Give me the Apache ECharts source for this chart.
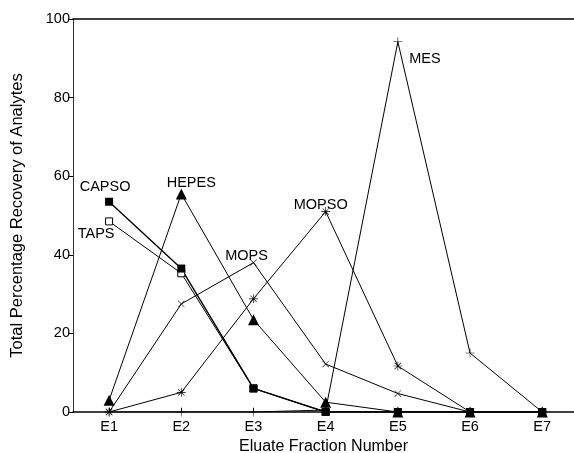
<!DOCTYPE html>
<html><head><meta charset="utf-8">
<script src="https://cdn.jsdelivr.net/npm/echarts@6/dist/echarts.min.js"></script>
<style>html,body{margin:0;padding:0;background:#fff}#c{width:574px;height:453px}</style>
</head><body><div id="c"></div>
<script>
const fractions = [1, 2, 3, 4, 5, 6, 7];
const fractionLabels = ['E1', 'E2', 'E3', 'E4', 'E5', 'E6', 'E7'];
const yTicks = [0, 20, 40, 60, 80, 100];
const capso = [53.5, 36.5, 6, 0, 0, 0, 0];
const taps  = [48.5, 35.3, 6, 0, 0, 0, 0];
const hepes = [3, 55.5, 23.5, 2.5, 0, 0, 0];
const mops  = [0, 27.5, 38, 12.2, 4.7, 0, 0];
const mopso = [0, 5, 28.8, 51, 11.7, 0, 0];
const mes   = [0, 0, 0, 0.5, 94.2, 15, 0];

const PLUS = 'path://M-0.6,-10 L0.6,-10 L0.6,10 L-0.6,10 Z M-10,-0.6 L10,-0.6 L10,0.6 L-10,0.6 Z';
const STAR = 'path://M-0.7,-10 L0.7,-10 L0.7,10 L-0.7,10 Z M-10,-0.7 L10,-0.7 L10,0.7 L-10,0.7 Z M-7.6,-6.6 L-6.6,-7.6 L7.6,6.6 L6.6,7.6 Z M6.6,-7.6 L7.6,-6.6 L-6.6,7.6 L-7.6,6.6 Z';
const FONT = 'Liberation Sans, Arial, sans-serif';

function mk(name, values, symbol, size, opts, labelIdx, labelOffset) {
  return Object.assign({
    name: name, type: 'line',
    data: values.map((v, i) => [fractions[i], v]),
    symbol: symbol, symbolSize: size,
    lineStyle: { color: '#000', width: 1 },
    itemStyle: { color: '#000' },
    label: {
      show: true, position: 'inside', offset: labelOffset,
      fontFamily: FONT, fontSize: 14.5, color: '#000',
      formatter: p => p.dataIndex === labelIdx ? name : ''
    },
    emphasis: { disabled: true },
    animation: false
  }, opts || {});
}

const chart = echarts.init(document.getElementById('c'), null, { renderer: 'canvas' });
chart.setOption({
  animation: false,
  grid: { left: 73, right: 0, top: 19, bottom: 41, containLabel: false, outerBoundsMode: 'none' },
  textStyle: { fontFamily: FONT },
  xAxis: [{
    type: 'value', min: 0.5, max: 7.44,
    name: 'Eluate Fraction Number', nameLocation: 'middle', nameGap: 27,
    nameTextStyle: { fontSize: 16, color: '#000' },
    axisLine: { lineStyle: { color: '#000', width: 1.5 } },
    axisTick: { customValues: fractions, length: 4, inside: true, lineStyle: { color: '#000' } },
    axisLabel: { customValues: fractions, formatter: v => fractionLabels[fractions.indexOf(v)], fontSize: 14.5, color: '#000', margin: 7 },
    splitLine: { show: false }
  }, {
    type: 'value', position: 'top', min: 0.5, max: 7.44,
    axisLine: { show: true, onZero: false, lineStyle: { color: '#000', width: 1.5 } },
    axisTick: { show: false }, axisLabel: { show: false }, splitLine: { show: false }
  }],
  yAxis: {
    type: 'value', min: 0, max: 100, interval: 20,
    name: 'Total Percentage Recovery of Analytes', nameLocation: 'middle', nameGap: 47,
    nameTextStyle: { fontSize: 16.5, color: '#000' },
    axisLine: { show: true, lineStyle: { color: '#333', width: 1 } },
    axisTick: { show: true, length: 5, lineStyle: { color: '#000' } },
    axisLabel: { fontSize: 14.5, color: '#000', margin: 3, formatter: v => yTicks.includes(v) ? String(v) : '' },
    splitLine: { show: false }
  },
  series: [
    mk('MES', mes, PLUS, 9, null, 4, [27, 17]),
    mk('MOPSO', mopso, STAR, 9, null, 3, [-5, -7]),
    mk('MOPS', mops, PLUS, 9, { symbolRotate: 45 }, 2, [-7, -7]),
    mk('TAPS', taps, 'rect', 7, { itemStyle: { color: '#fff', borderColor: '#000', borderWidth: 1 } }, 0, [-13, 13]),
    mk('HEPES', hepes, 'triangle', 11, null, 1, [10, -11]),
    mk('CAPSO', capso, 'rect', 8, { lineStyle: { color: '#000', width: 1.4 } }, 0, [-4, -15])
  ]
});
</script></body></html>
